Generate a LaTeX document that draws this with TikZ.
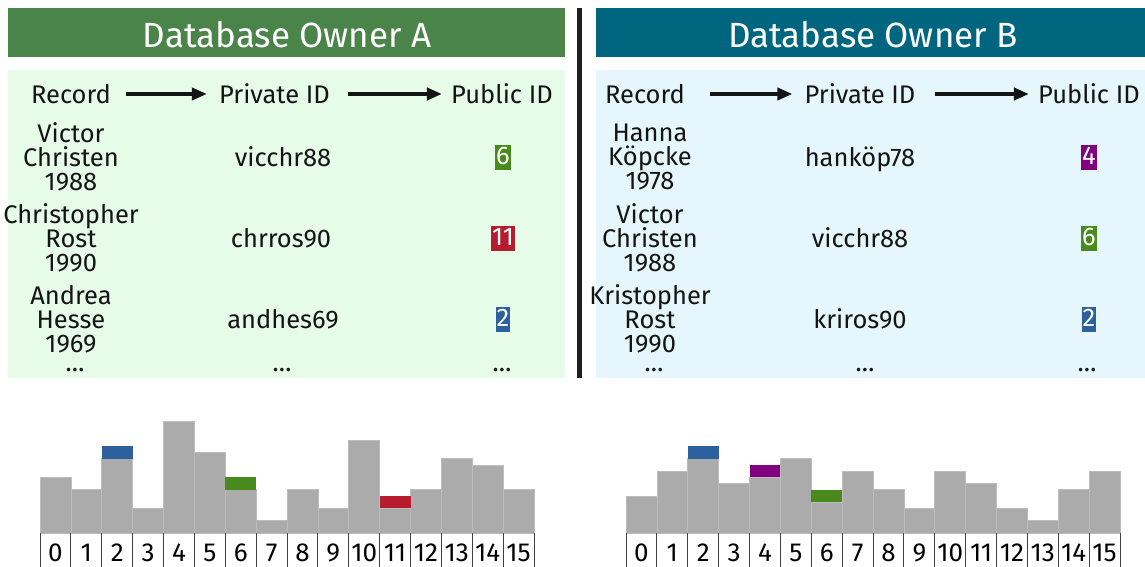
\documentclass[tikz,border=0pt]{standalone}
\usepackage{fontspec}
\setmainfont{Fira Sans}
\usetikzlibrary{arrows.meta}

\definecolor{hdrA}{RGB}{74,132,73}
\definecolor{hdrB}{RGB}{0,102,128}
\definecolor{panelA}{RGB}{230,251,232}
\definecolor{panelB}{RGB}{229,247,252}
\definecolor{idgreen}{RGB}{73,138,29}
\definecolor{idred}{RGB}{182,28,46}
\definecolor{idblue}{RGB}{44,96,158}
\definecolor{idpurple}{RGB}{128,0,128}
\definecolor{bargray}{RGB}{171,171,171}
\definecolor{ink}{RGB}{20,20,20}

\tikzset{
  header/.style={text=white, inner sep=0pt, font=\fontsize{35}{35}\selectfont},
  txt/.style={text=ink, inner sep=0pt, align=center, font=\fontsize{25.5}{24}\selectfont},
  line1/.style={txt, text height=18pt, text depth=6pt},
  more/.style={txt, anchor=base, text height=4pt, text depth=0pt},
  pid/.style={text=white, inner xsep=1pt, inner ysep=0pt, minimum height=25pt,
              text height=18pt, text depth=5pt, font=\fontsize{25.5}{24}\selectfont},
  flow/.style={draw=ink, line width=4pt,
               -{Triangle[length=15pt,width=12pt]}},
  bar/.style={fill=bargray, draw=bargray!80!white, line width=0.6pt},
  binlabel/.style={text=black, inner sep=0pt, text height=18pt, text depth=0pt,
                   font=\fontsize{26}{24}\selectfont},
  binline/.style={draw=black!75, line width=1pt}
}

% histogram: origin x, list of bar heights, highlighted bins
\newcommand{\histo}[3]{%
  \foreach \h [count=\k from 0] in {#2} {
    \draw[bar] ({#1+\k*30.875},533) rectangle ({#1+(\k+1)*30.875},{533-\h*6.2});
  }
  \foreach \b/\h/\c in {#3} {
    \fill[\c] ({#1+\b*30.875},{533-\h*6.2}) rectangle ({#1+(\b+1)*30.875},{533-(\h+2)*6.2});
  }
  \foreach \k in {0,...,16} {
    \draw[binline] ({#1+\k*30.875},533) -- ({#1+\k*30.875},567);
  }
  \foreach \k in {0,...,15} {
    \node[binlabel] (bin-#1-\k) at ({#1+(\k+0.5)*30.875},552) {\k};
  }
}

\begin{document}
\begin{tikzpicture}[x=1pt,y=-1pt]
\useasboundingbox[fill=white] (0,0) rectangle (1145,567);

% title bars and panels
\fill[hdrA] (8,8) rectangle (565,57);
\fill[hdrB] (596,8) rectangle (1145,57);
\fill[panelA] (8,70) rectangle (565,378);
\fill[panelB] (596,70) rectangle (1145,378);
\fill[black!88] (577,8) rectangle (582,378);

\node[header] (titleA) at (287,35) {Database Owner A};
\node[header] (titleB) at (873,35) {Database Owner B};

% ---- owner A ----
\node[line1] (recA)  at (71,97)  {Record};
\node[line1] (privA) at (274.5,97) {Private ID};
\node[line1] (pubA)  at (502,97) {Public ID};
\draw[flow, shorten <=15pt, shorten >=12pt] ([yshift=3pt]recA.east) -- ([yshift=3pt]privA.west);
\draw[flow, shorten <=18pt, shorten >=9pt] ([yshift=3pt]privA.east) -- ([yshift=3pt]pubA.west);

\node[txt] (a1n) at (71,157) {Victor\\Christen\\1988};
\node[line1] (a1p) at (283,160) {vicchr88};
\node[pid, fill=idgreen] (a1i) at (503,157.5) {6};

\node[txt] (a2n) at (71,238) {Christopher\\Rost\\1990};
\node[line1] (a2p) at (281,241) {chrros90};
\node[pid, fill=idred] (a2i) at (503,238.5) {11};

\node[txt] (a3n) at (71,319) {Andrea\\Hesse\\1969};
\node[line1] (a3p) at (283,322) {andhes69};
\node[pid, fill=idblue] (a3i) at (503,319.5) {2};

\node[more] (a4n) at (75,371) {\dots};
\node[more] (a4p) at (282,371) {\dots};
\node[more] (a4i) at (502,371) {\dots};

% ---- owner B ----
\node[line1] (recB)  at (645,97)  {Record};
\node[line1] (privB) at (860,97) {Private ID};
\node[line1] (pubB)  at (1089,97) {Public ID};
\draw[flow, shorten <=25pt, shorten >=12pt] ([yshift=3pt]recB.east) -- ([yshift=3pt]privB.west);
\draw[flow, shorten <=19pt, shorten >=9pt] ([yshift=3pt]privB.east) -- ([yshift=3pt]pubB.west);

\node[txt] (b1n) at (650,157) {Hanna\\Köpcke\\1978};
\node[line1] (b1p) at (860,160) {hanköp78};
\node[pid, fill=idpurple] (b1i) at (1089,157.5) {4};

\node[txt] (b2n) at (650,238) {Victor\\Christen\\1988};
\node[line1] (b2p) at (860,241) {vicchr88};
\node[pid, fill=idgreen] (b2i) at (1089,238.5) {6};

\node[txt] (b3n) at (650,319) {Kristopher\\Rost\\1990};
\node[line1] (b3p) at (860,322) {kriros90};
\node[pid, fill=idblue] (b3i) at (1089,319.5) {2};

\node[more] (b4n) at (654,371) {\dots};
\node[more] (b4p) at (865,371) {\dots};
\node[more] (b4i) at (1087,371) {\dots};

% ---- bucket histograms ----
\histo{40}{9,7,12,4,18,13,7,2,7,4,15,4,7,12,11,7}{2/12/idblue,6/7/idgreen,11/4/idred}
\histo{626}{6,10,12,8,9,12,5,10,7,4,10,8,4,2,7,10}{2/12/idblue,4/9/idpurple,6/5/idgreen}

\end{tikzpicture}
\end{document}
